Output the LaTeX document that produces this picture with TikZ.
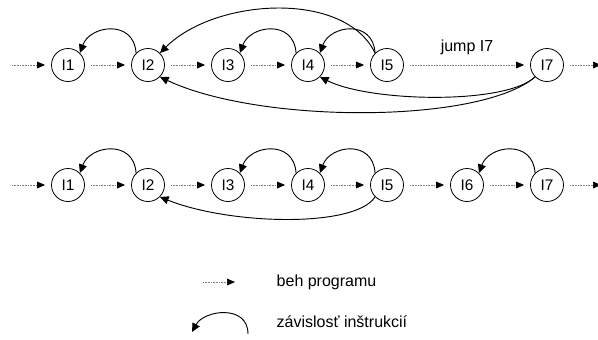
\documentclass[tikz,border=0pt]{standalone}
\usepackage{fontspec}
\setmainfont{Liberation Sans}
\usetikzlibrary{arrows.meta}
\begin{document}
\begin{tikzpicture}[x=0.75pt,y=-0.75pt,
  inst/.style={circle,draw,line width=0.6pt,minimum size=24.75pt,inner sep=0pt,font=\fontsize{11.5}{13}\selectfont},
  flow/.style={draw=gray,line width=0.55pt,dash pattern=on 0.7pt off 0.5pt,shorten <=4.5pt,shorten >=4.5pt,
    -{Triangle[length=6pt,width=5pt,fill=black,color=black]}},
  flowfree/.style={draw=gray,line width=0.55pt,dash pattern=on 0.7pt off 0.5pt,
    -{Triangle[length=6pt,width=5pt,fill=black,color=black]}},
  dep/.style={draw,line width=0.7pt,-{Triangle[length=6.5pt,width=6pt]}},
  lbl/.style={font=\fontsize{12}{14}\selectfont}
]
\useasboundingbox (0,0) rectangle (598,339);
% top row
\node[inst] (a1) at (68,65) {I1};
\node[inst] (a2) at (148,65) {I2};
\node[inst] (a3) at (228,65) {I3};
\node[inst] (a4) at (308,65) {I4};
\node[inst] (a5) at (387,65) {I5};
\node[inst] (a7) at (547,65) {I7};
\coordinate (as) at (12,65);
\coordinate (ae) at (601,65);
\draw[flowfree] (as) -- ([xshift=-4.5pt]a1.west);
\draw[flow] (a1) -- (a2);
\draw[flow] (a2) -- (a3);
\draw[flow] (a3) -- (a4);
\draw[flow] (a4) -- (a5);
\draw[flow] (a5) -- node[lbl,above=4pt] {jump I7} (a7);
\draw[flowfree] ([xshift=4.5pt]a7.east) -- (ae);
\draw[dep] (a2.135) .. controls +(-2,-34) and +(10,-28) .. (a1.45);
\draw[dep] (a4.135) .. controls +(-2,-34) and +(10,-28) .. (a3.45);
\draw[dep] (a5.135) .. controls +(-2,-34) and +(10,-28) .. (a4.45);
\draw[dep] (a5.135) .. controls (345,-10) and (215,-2) .. (a2.45);
\draw[dep] (a7.225) .. controls (505,105) and (370,102) .. (a4.315);
\draw[dep] (a7.225) .. controls (480,124) and (260,124) .. (a2.315);
% bottom row
\node[inst] (b1) at (68,185) {I1};
\node[inst] (b2) at (148,185) {I2};
\node[inst] (b3) at (228,185) {I3};
\node[inst] (b4) at (308,185) {I4};
\node[inst] (b5) at (387,185) {I5};
\node[inst] (b6) at (467,185) {I6};
\node[inst] (b7) at (547,185) {I7};
\coordinate (bs) at (12,185);
\coordinate (be) at (601,185);
\draw[flowfree] (bs) -- ([xshift=-4.5pt]b1.west);
\draw[flow] (b1) -- (b2);
\draw[flow] (b2) -- (b3);
\draw[flow] (b3) -- (b4);
\draw[flow] (b4) -- (b5);
\draw[flow] (b5) -- (b6);
\draw[flow] (b6) -- (b7);
\draw[flowfree] ([xshift=4.5pt]b7.east) -- (be);
\draw[dep] (b2.135) .. controls +(-2,-34) and +(10,-28) .. (b1.45);
\draw[dep] (b4.135) .. controls +(-2,-34) and +(10,-28) .. (b3.45);
\draw[dep] (b5.135) .. controls +(-2,-34) and +(10,-28) .. (b4.45);
\draw[dep] (b7.135) .. controls +(-2,-34) and +(10,-28) .. (b6.45);
\draw[dep] (b5.225) .. controls (355,228) and (230,225) .. (b2.315);
% legend
\coordinate (l1s) at (203,282);
\coordinate (l1e) at (235,282);
\draw[flowfree] (l1s) -- (l1e);
\node[lbl,anchor=west] (t1) at (272,282) {beh programu};
\coordinate (l2s) at (248,334);
\coordinate (l2e) at (192,332);
\draw[dep] (l2s) .. controls +(0,-30) and +(12,-22) .. (l2e);
\node[lbl,anchor=west] (t2) at (272,322) {závislosť inštrukcií};
\end{tikzpicture}
\end{document}
